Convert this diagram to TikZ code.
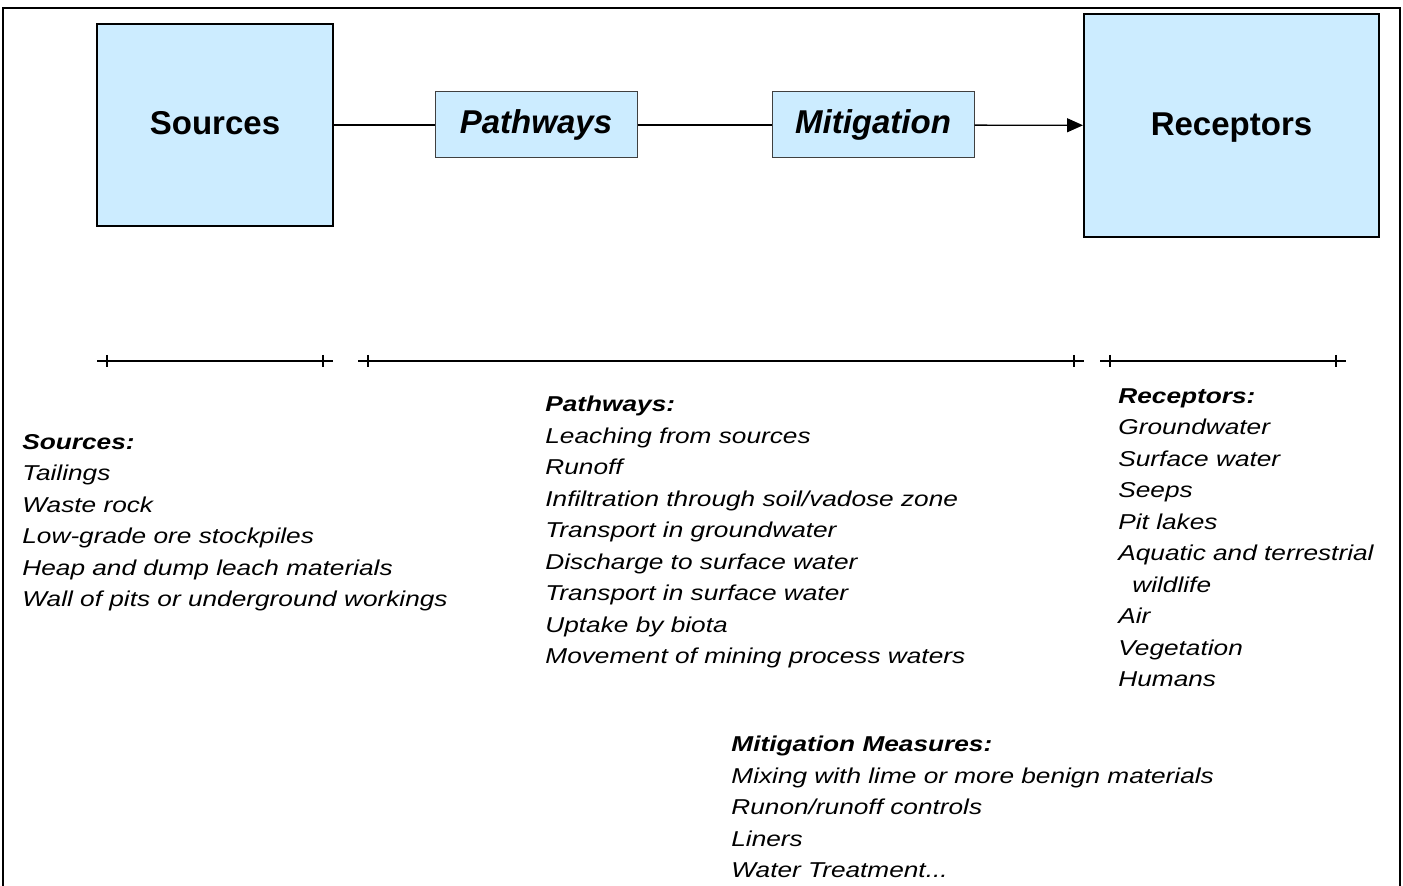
\documentclass[tikz,border=0pt]{standalone}
\usepackage{fontspec}
\setmainfont{Liberation Sans}
\newfontfamily\listfont[FakeStretch=1.22]{Liberation Sans}
\usetikzlibrary{arrows.meta}
\definecolor{box_blue}{RGB}{204, 236, 255}
\tikzstyle{bigbox}=[rectangle,fill=box_blue,draw=black,line width=1pt,
  inner sep=0pt,text height=13.3pt,text depth=3.5pt,
  font=\bfseries\fontsize{16.5}{20}\selectfont]
\tikzstyle{smallbox}=[rectangle,fill=box_blue,draw=black!75,line width=0.5pt,
  inner sep=0pt,minimum width=101pt,minimum height=33pt,
  font=\bfseries\itshape\fontsize{16.5}{20}\selectfont]
\tikzstyle{listtext}=[anchor=north west,align=left,inner sep=0pt,
  font=\listfont\itshape\fontsize{10.75}{15.75}\selectfont]
\tikzstyle{link}=[line width=0.65pt]

\begin{document}
\begin{tikzpicture}[x=0.5pt, y=-0.5pt]
            \useasboundingbox (0,0) rectangle (1403,886);
            \draw [line width=1pt] (3,886) -- (3,8) -- (1400,8) -- (1400,886);
            % top row
            \node [style=bigbox, minimum width=118pt, minimum height=101pt] (src) at (215, 125) {Sources};
            \node [style=smallbox] (path) at (536, 125) {Pathways};
            \node [style=smallbox] (mitig) at (873, 125) {Mitigation};
            \node [style=bigbox, minimum width=147.5pt, minimum height=111.5pt] (rec) at (1231.5, 125.5) {Receptors};
            \draw [style=link] (src) to (path);
            \draw [style=link] (path) to (mitig);
            \draw [style=link, -{Triangle[length=8pt, width=7pt]}] (mitig) to (rec);
            % scale bars
            \foreach \xa/\xb in {97/333, 358/1084, 1100/1346} {
              \draw [line width=0.75pt] (\xa, 361) -- (\xb, 361);
              \draw [line width=0.75pt] (\xa+10, 355) -- (\xa+10, 367);
              \draw [line width=0.75pt] (\xb-10, 355) -- (\xb-10, 367);
            }
            % lists
            \node [style=listtext] (srclist) at (22, 434) {\textbf{Sources:}\\
              Tailings\\ Waste rock\\ Low-grade ore stockpiles\\
              Heap and dump leach materials\\ Wall of pits or underground workings};
            \node [style=listtext] (pathlist) at (545, 396) {\textbf{Pathways:}\\
              Leaching from sources\\ Runoff\\ Infiltration through soil/vadose zone\\
              Transport in groundwater\\ Discharge to surface water\\
              Transport in surface water\\ Uptake by biota\\ Movement of mining process waters};
            \node [style=listtext] (reclist) at (1118, 388) {\textbf{Receptors:}\\
              Groundwater\\ Surface water\\ Seeps\\ Pit lakes\\ Aquatic and terrestrial\\
              \hspace*{7pt}wildlife\\ Air\\ Vegetation\\ Humans};
            \node [style=listtext] (mitiglist) at (731, 736) {\textbf{Mitigation Measures:}\\
              Mixing with lime or more benign materials\\ Runon/runoff controls\\
              Liners\\ Water Treatment...};
    \end{tikzpicture}
\end{document}
